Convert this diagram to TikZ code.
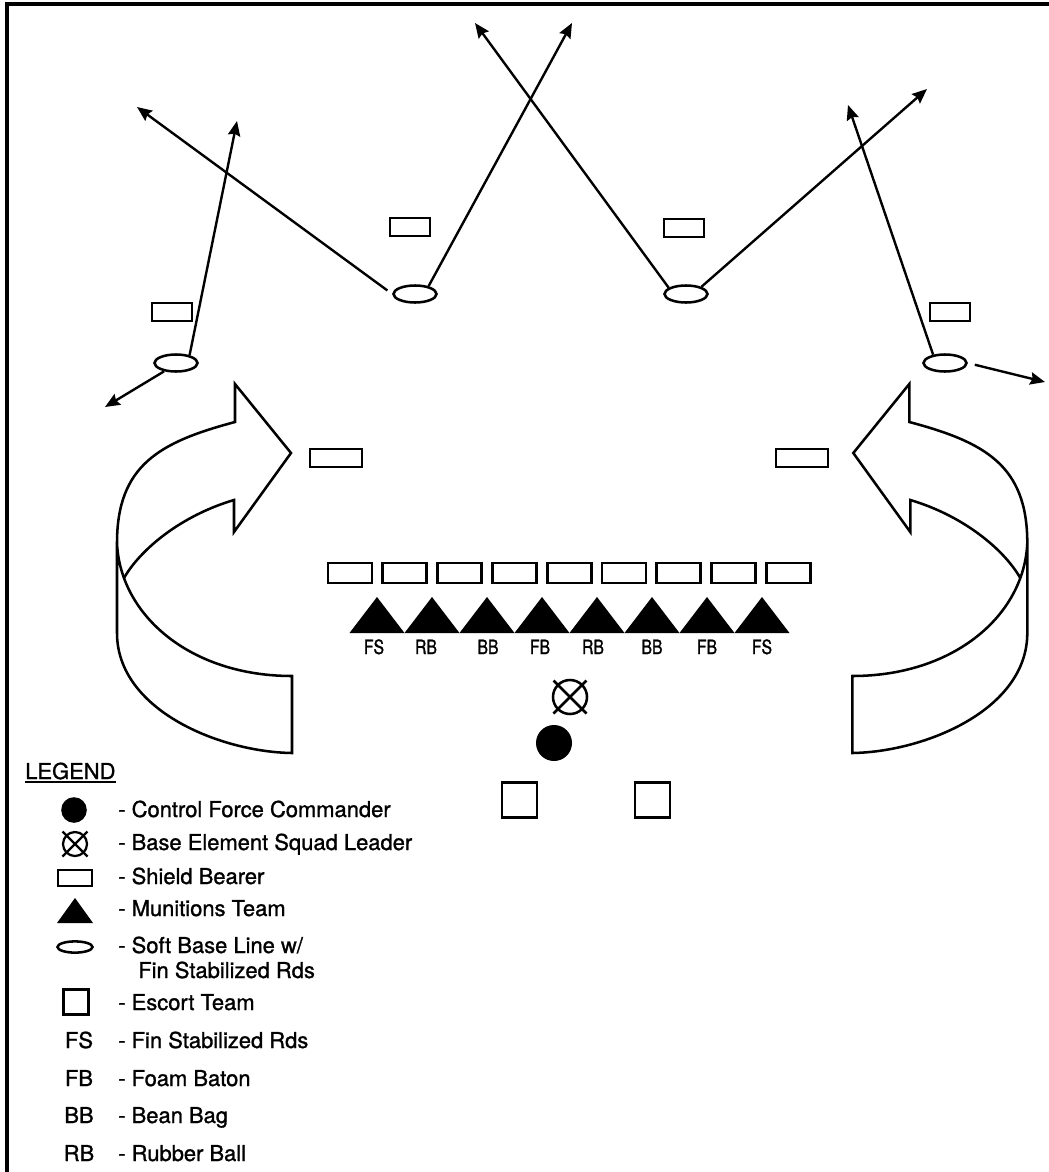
\documentclass[tikz,border=0pt]{standalone}
\usepackage{fontspec}
\setmainfont[FakeBold=1.2]{TeX Gyre Heros}
\newfontfamily\narrowfont[FakeStretch=0.8, FakeBold=1.2]{TeX Gyre Heros}
\usetikzlibrary{arrows.meta, shapes.geometric}
\newcommand{\legfont}{\fontsize{15.6}{19}\selectfont}
\tikzset{
    shield/.style={rectangle, draw=black, line width=2pt, minimum width=1.0cm, minimum height=0.45cm, inner sep=0pt},
    softbase/.style={ellipse, draw=black, line width=1.8pt, minimum width=1.075cm, minimum height=0.425cm, inner sep=0pt},
    escort/.style={rectangle, draw=black, line width=2pt, minimum size=0.875cm, inner sep=0pt},
    commander/.style={circle, fill=black, minimum size=0.9cm, inner sep=0pt},
    squadlead/.style={circle, draw=black, line width=1.8pt, minimum size=0.85cm, inner sep=0pt},
    arrow/.style={line width=1.7pt, -{Stealth[length=0.37cm, width=0.31cm, inset=0.05cm]}},
    band/.style={line width=1.8pt, line join=miter},
    legendtext/.style={anchor=base west, inner sep=0pt, font=\legfont},
    teamlabel/.style={anchor=base, inner sep=0pt, font=\narrowfont\fontsize{14}{16}\selectfont}
}
% one curved turning arrow, drawn for the left flank
\newcommand{\turnarrow}{%
    \draw[band] (117,543) .. controls (117,465) and (160,442) .. (235,422) -- (235,384) -- (291,453) -- (234,532) -- (234,500) .. controls (180,516) and (140,550) .. (124,578);
    \draw[band] (117,543) .. controls (120,615) and (190,676) .. (292,676) -- (292,753) .. controls (220,752) and (117,710) .. (117,633) -- cycle;
}

\begin{document}
\begin{tikzpicture}[x=0.025cm, y=-0.025cm]
    \useasboundingbox (0,0) rectangle (1049,1172);
    \draw[line width=2.3pt] (7,1172) -- (7,4) -- (1049,4);

    % Soft base line and forward shields
    \node[softbase] (sb1) at (176,363) {};
    \node[softbase] (sb2) at (415,294) {};
    \node[softbase] (sb3) at (686,294) {};
    \node[softbase] (sb4) at (945,363) {};
    \node[shield] (sh1) at (172,312) {};
    \node[shield] (sh2) at (410,227) {};
    \node[shield] (sh3) at (684,228) {};
    \node[shield] (sh4) at (950,312) {};
    \node[shield, minimum width=1.3cm] (sh5) at (336,458) {};
    \node[shield, minimum width=1.3cm] (sh6) at (802,458) {};

    % Fire directions
    \coordinate (tip1) at (105,407);
    \coordinate (tip2) at (237,121);
    \coordinate (tip3) at (137,107);
    \coordinate (tip4) at (572,23);
    \coordinate (tip5) at (475,23);
    \coordinate (tip6) at (927,89);
    \coordinate (tip7) at (848,105);
    \coordinate (tip8) at (1045,382);
    \draw[arrow] (sb1.215) -- (tip1);
    \draw[arrow] (sb1.30) -- (tip2);
    \draw[arrow, shorten <=0.15cm] (sb2.west) -- (tip3);
    \draw[arrow] (sb2.30) -- (tip4);
    \draw[arrow] (sb3.160) -- (tip5);
    \draw[arrow] (sb3.25) -- (tip6);
    \draw[arrow] (sb4.145) -- (tip7);
    \draw[arrow, shorten <=0.18cm] (sb4.east) -- (tip8);

    % Flanking movement
    \begin{scope}
        \turnarrow
    \end{scope}
    \begin{scope}[xshift=28.6cm, xscale=-1]
        \turnarrow
    \end{scope}

    % Base line: shields and munitions teams
    \foreach \i in {0,...,8}
        \node[shield, minimum width=1.1cm, minimum height=0.5cm] (row\i) at ({350+54.8*\i},573) {};
    \foreach \i/\x/\lab in {0/374/FS,1/426/RB,2/488/BB,3/540/FB,4/593/RB,5/652/BB,6/707/FB,7/762/FS}
    {
        \fill ({349.5+55*\i},633) -- ++(27.5,-36) -- ++(27.5,36) -- cycle;
        \node[teamlabel] (team\i) at (\x,654) {\lab};
    }

    % Leaders and escort
    \node[squadlead] (bsl) at (570,697) {};
    \draw[line width=1.8pt] ([shift={(-16.5,-16.5)}]bsl.center) -- ([shift={(16.5,16.5)}]bsl.center);
    \draw[line width=1.8pt] ([shift={(-16.5,16.5)}]bsl.center) -- ([shift={(16.5,-16.5)}]bsl.center);
    \node[commander] (cfc) at (554,743) {};
    \node[escort] (esc1) at (519.5,800) {};
    \node[escort] (esc2) at (652.5,800) {};

    % Legend
    \node[legendtext] (legend) at (25,779) {LEGEND};
    \draw[line width=1.5pt] ([yshift=-0.08cm]legend.base west) -- ([yshift=-0.08cm]legend.base east);
    \node[commander, minimum size=0.64cm] (kcfc) at (74,810) {};
    \node[squadlead, minimum size=0.6cm, line width=1.6pt] (kbsl) at (75,844) {};
    \draw[line width=1.6pt] ([shift={(-12.5,-12.5)}]kbsl.center) -- ([shift={(12.5,12.5)}]kbsl.center);
    \draw[line width=1.6pt] ([shift={(-12.5,12.5)}]kbsl.center) -- ([shift={(12.5,-12.5)}]kbsl.center);
    \node[shield, minimum width=0.85cm, minimum height=0.4cm] (ksh) at (75,878) {};
    \fill (57,923) -- (75,898) -- (93,923) -- cycle;
    \node[softbase, minimum width=0.875cm, minimum height=0.28cm] (ksb) at (75,947) {};
    \node[escort, minimum size=0.62cm] (kesc) at (76,1002) {};
    \foreach \y/\txt [count=\k] in {817/{Control Force Commander}, 850/{Base Element Squad Leader}, 884/{Shield Bearer}, 916/{Munitions Team}, 953/{Soft Base Line w/}, 1010/{Escort Team}, 1048/{Fin Stabilized Rds}, 1086/{Foam Baton}, 1123/{Bean Bag}, 1161/{Rubber Ball}}
        \node[legendtext] (key\k) at (118,\y) {- \txt};
    \node[legendtext] (key11) at (138,978) {Fin Stabilized Rds};
    \foreach \y/\lab in {1048/FS, 1086/FB, 1123/BB, 1161/RB}
        \node[legendtext, anchor=base] (code\lab) at (79,\y) {\lab};
\end{tikzpicture}
\end{document}
